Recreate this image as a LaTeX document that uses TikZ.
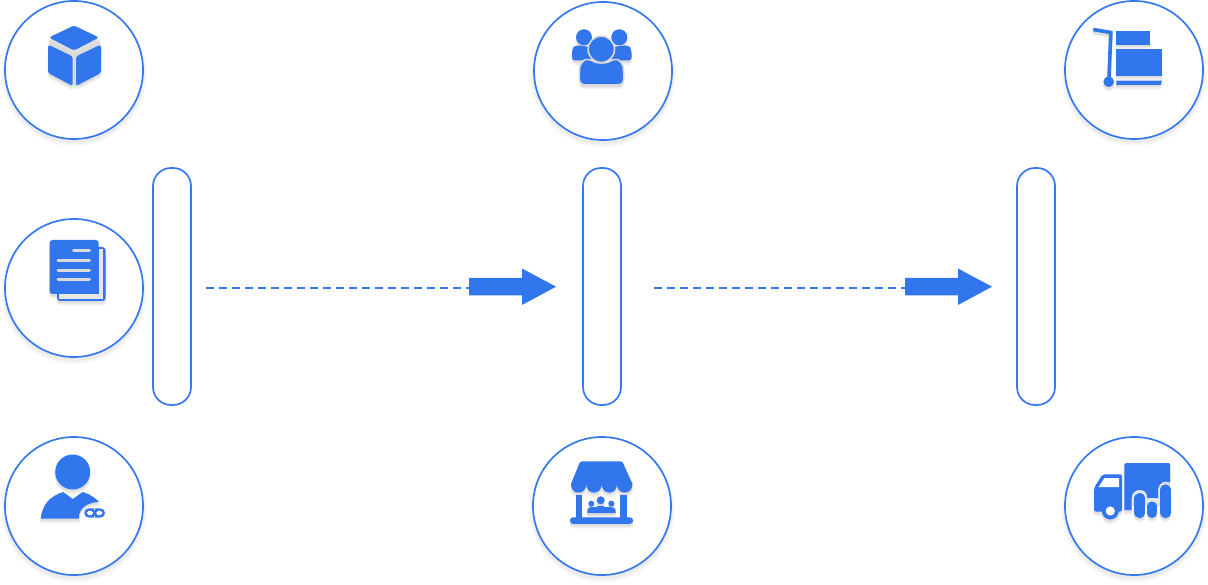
\documentclass[tikz,border=0pt]{standalone}
\usepackage{xcolor}
\definecolor{iconblue}{HTML}{3176EC}
\definecolor{lineblue}{HTML}{3779EE}
\definecolor{gapgray}{HTML}{DADADA}
\definecolor{softgray}{HTML}{E6E6E6}
\definecolor{shA}{HTML}{F0F0F0}
\definecolor{shB}{HTML}{DEDEDE}
\tikzset{
  ringnode/.style={circle,draw=lineblue,line width=1.7pt,fill=white,minimum size=138pt,inner sep=0pt,outer sep=0pt},
  pillnode/.style={rectangle,rounded corners=18pt,draw=lineblue,line width=1.7pt,fill=white,minimum width=38pt,minimum height=237pt,inner sep=0pt,outer sep=0pt},
  dashline/.style={draw=lineblue,line width=1.5pt,dash pattern=on 8pt off 5pt},
  blockarrow/.style={fill=iconblue},
  ic/.style={fill=iconblue},
  kn/.style={fill=gapgray},
  sk/.style={fill=softgray},
  wk/.style={fill=white},
  gp/.style={fill=iconblue,draw=gapgray,line width=1.6pt},
  ln/.style={draw=iconblue,fill=none},
}
\newcommand{\ringshadow}[3]{%
  \fill[black!3] (#1,#2+3.5) circle[radius=#3+3.5];
  \fill[black!5] (#1,#2+3) circle[radius=#3+2];
  \fill[black!8] (#1,#2+3) circle[radius=#3+1];
}
\newcommand{\withshadow}[1]{%
  \begin{scope}[shift={(0,4)},
    ic/.style={fill=shA,draw=shA,line width=1pt},kn/.style={fill=shA},sk/.style={fill=shA},wk/.style={fill=shA},
    gp/.style={fill=shA},ln/.style={draw=shA}]#1\end{scope}
  \begin{scope}[shift={(0,2.5)},
    ic/.style={fill=shB},kn/.style={fill=shB},sk/.style={fill=shB},wk/.style={fill=shB},
    gp/.style={fill=shB},ln/.style={draw=shB}]#1\end{scope}
  #1%
}
\newcommand{\cubeicon}{%
  \path[kn] (49,40) -- (74.5,53) -- (100,40) -- (100,47) -- (76.5,58) -- (76.5,84) -- (72.5,84) -- (72.5,58) -- (49,47) -- cycle;
  \path[ic,rounded corners=2.5pt] (74,25.5) -- (99,37.5) -- (74,50.5) -- (49,37.5) -- cycle;
  \path[ic,rounded corners=2.5pt] (48,44.5) -- (72.7,56.5) -- (72.7,86) -- (48,73) -- cycle;
  \path[ic,rounded corners=2.5pt] (101,44.5) -- (76,56.5) -- (76,86) -- (101,73) -- cycle;
}
\newcommand{\docicon}{%
  \path[ic,rounded corners=3pt] (57,247) rectangle (105.5,301);
  \path[sk] (59,294) rectangle (103,298.7);
  \path[sk] (98.7,249.5) rectangle (103,298.7);
  \path[ic,rounded corners=3pt] (49.5,240) rectangle (98.7,294);
  \begin{scope}[line width=3pt,line cap=round]
    \path[draw=gapgray] (73.5,251) -- (89.5,251);
    \path[draw=gapgray] (58,260.7) -- (89.5,260.7);
    \path[draw=gapgray] (58,270.4) -- (89.5,270.4);
    \path[draw=gapgray] (58,280) -- (89.5,280);
  \end{scope}
}
\newcommand{\personicon}{%
  \path[ic] (72.7,472) circle[radius=17.5];
  \path[ic] (40.7,518.7) .. controls (42,505) and (50,496) .. (63.3,492) -- (72.7,499) -- (82.7,492)
     .. controls (90,494) and (95,498) .. (99.3,502) .. controls (88,502) and (78,508) .. (79,518.7) -- cycle;
}
\newcommand{\linkicon}{%
  \path[ic,rounded corners=4.5pt] (84.3,508.4) rectangle (105,517.6);
  \path[wk,rounded corners=1.8pt] (87,510.9) rectangle (93,515.1);
  \path[wk,rounded corners=1.8pt] (96.3,510.9) rectangle (102.3,515.1);
  \path[wk] (94.1,508) rectangle (95.2,509.6);
  \path[wk] (94.1,516.4) rectangle (95.2,518);
}
\newcommand{\groupicon}{%
  \path[ic] (584,37.3) circle[radius=8];
  \path[ic] (619.3,37.3) circle[radius=8];
  \path[ic,rounded corners=3pt] (572,60.5) -- (572,50) .. controls (574,46) and (578,45.5) .. (582,45.5) -- (592,48) -- (592,60.5) -- cycle;
  \path[ic,rounded corners=3pt] (631.5,60.5) -- (631.5,50) .. controls (629.5,46) and (625.5,45.5) .. (621.5,45.5) -- (611,48) -- (611,60.5) -- cycle;
  \path[gp] (601.3,49.3) circle[radius=13.2];
  \path[gp,rounded corners=5pt] (579.3,85) -- (579.3,72) .. controls (580,64) and (584,60) .. (590,58.3)
     .. controls (596,63.5) and (607,63.5) .. (613,58.3) .. controls (619,60) and (623,64) .. (623.7,72) -- (623.7,85) -- cycle;
}
\newcommand{\storeicon}{%
  \path[ic] (582,461.3) -- (620,461.3) .. controls (622,461.3) and (622.5,462) .. (623,463) -- (632.5,484)
     .. controls (632.5,489) and (629,492.7) .. (624.5,492.7) .. controls (620,492.7) and (617,489) .. (617,484)
     .. controls (617,489) and (614,492.7) .. (609.5,492.7) .. controls (605,492.7) and (601.7,489) .. (601.7,484)
     .. controls (601.7,489) and (598.5,492.7) .. (594,492.7) .. controls (589.5,492.7) and (586.3,489) .. (586.3,484)
     .. controls (586.3,489) and (583,492.7) .. (578.5,492.7) .. controls (574,492.7) and (571,489) .. (571,484)
     -- (579.5,463) .. controls (580,462) and (581,461.3) .. (582,461.3) -- cycle;
  \path[ic] (576.3,495) rectangle (582.3,518);
  \path[ic] (620.3,495) rectangle (626.7,518);
  \path[ic,rounded corners=3pt] (570,517.3) rectangle (633,523.8);
  \path[ic] (600.7,500.3) circle[radius=4];
  \path[ic] (591.3,503.7) circle[radius=3];
  \path[ic] (611.3,503.7) circle[radius=3];
  \path[ic] (587.3,513) -- (587.3,509.5) .. controls (588,507.5) and (590,507) .. (593,507) -- (596,507)
    .. controls (597,505.5) and (604,505.5) .. (605,507) -- (609,507) .. controls (612,507) and (615,507.5) .. (615.7,509.5) -- (615.7,513) -- cycle;
}
\newcommand{\carticon}{%
  \path[ln,line width=3.6pt] (1093.2,29.5) -- (1110.8,32.5) -- (1109,78);
  \path[ic] (1108.7,81.7) circle[radius=5.3];
  \path[ic] (1116.3,30.7) rectangle (1149.7,45);
  \path[ic] (1116.3,49.3) rectangle (1162,76);
  \path[ic] (1116.3,80.7) -- (1162,80.7) -- (1160.5,85) -- (1116.3,85) -- cycle;
}
\newcommand{\truckicon}{%
  \path[sk] (1130,484) rectangle (1168,503);
  \path[ic] (1124.3,510) -- (1124.3,464.5) .. controls (1124.3,463.5) and (1125,463) .. (1126,463) -- (1168.5,463)
     .. controls (1169.5,463) and (1170,463.5) .. (1170,464.5) -- (1170,482.5)
     .. controls (1166,480.5) and (1159.5,481) .. (1158.2,489) -- (1158.2,498.5)
     .. controls (1154,497.5) and (1150,497.5) .. (1147.5,498.5)
     .. controls (1147,492) and (1144,490) .. (1139.8,490)
     .. controls (1135,490) and (1131.5,493) .. (1131.5,499) -- (1131.5,510) -- cycle;
  \path[ln,line width=11.4pt,line cap=round] (1139.7,498.7) -- (1139.7,512.3);
  \path[ln,line width=9.6pt,line cap=round] (1152,506.2) -- (1152,513.2);
  \path[ln,line width=10.4pt,line cap=round] (1165.6,489.5) -- (1165.6,513);
  \path[ic,rounded corners=2pt] (1094,511.5) -- (1094,488) -- (1102.5,474.3) -- (1122,474.3) -- (1122,511.5) -- cycle;
  \path[wk] (1098.5,487) -- (1104.5,478) -- (1119,478) -- (1119,487) -- cycle;
  \path[ic] (1110.3,511) circle[radius=8.5];
  \path[wk] (1110.3,511) circle[radius=4.6];
}
\newcommand{\bigarrow}[1]{%
  \path[blockarrow] (#1) ++(0,-10) -- ++(53,0) -- ++(0,-9.5) -- ++(34,18.2) -- ++(-34,18.3) -- ++(0,-9.5) -- ++(-53,0) -- cycle;
}
\begin{document}
\begin{tikzpicture}[x=1pt,y=-1pt]
\useasboundingbox (0,0) rectangle (1208,585);
\fill[white] (0,0) rectangle (1208,585);
% ring shadows
\ringshadow{74}{70}{69}
\ringshadow{603}{71}{69}
\ringshadow{1134}{70}{69}
\ringshadow{74}{288}{69}
\ringshadow{74}{506}{69}
\ringshadow{602}{506}{69}
\ringshadow{1134}{506}{69}
% rings
\node[ringnode] (cube) at (74,70) {};
\node[ringnode] (group) at (603,71) {};
\node[ringnode] (cart) at (1134,70) {};
\node[ringnode] (docs) at (74,288) {};
\node[ringnode] (person) at (74,506) {};
\node[ringnode] (store) at (602,506) {};
\node[ringnode] (truck) at (1134,506) {};
% pills
\node[pillnode] (pillA) at (172,286.5) {};
\node[pillnode] (pillB) at (602,286.5) {};
\node[pillnode] (pillC) at (1036,286.5) {};
% connectors
\coordinate (startA) at (206,288);
\coordinate (endA) at (469,288);
\coordinate (startB) at (654,288);
\coordinate (endB) at (905,288);
\draw[dashline] (startA) -- (endA);
\draw[dashline] (startB) -- (endB);
\bigarrow{endA}
\bigarrow{endB}
% icons
\withshadow{\cubeicon}
\withshadow{\docicon}
\withshadow{\personicon}
\linkicon
\withshadow{\groupicon}
\withshadow{\storeicon}
\withshadow{\carticon}
\withshadow{\truckicon}
\end{tikzpicture}
\end{document}
